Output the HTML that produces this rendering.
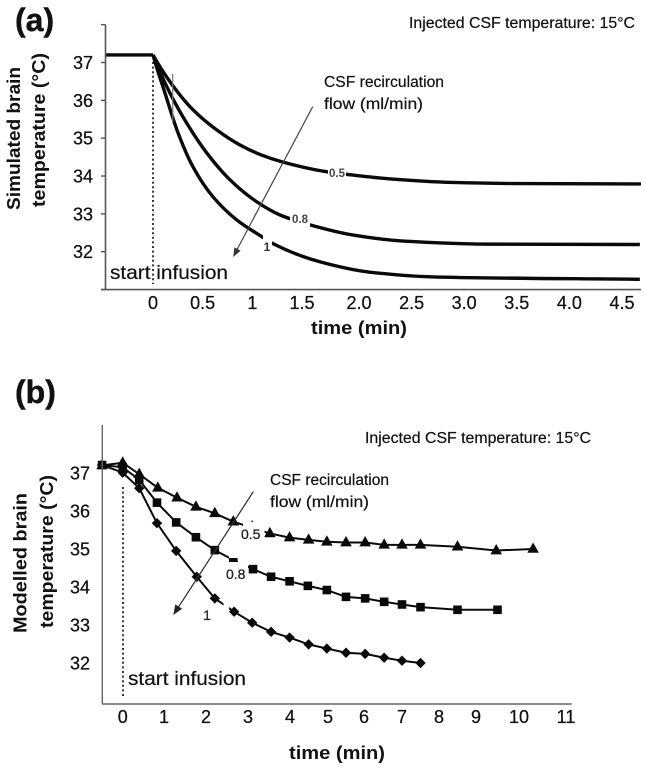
<!DOCTYPE html>
<html lang="en">
<head>
<meta charset="utf-8">
<title>Brain temperature during CSF infusion</title>
<style>
html,body{margin:0;padding:0;background:#fff;}
svg{display:block;font-family:"Liberation Sans",sans-serif;filter:blur(0.35px);}
.tick{font-size:18px;fill:#111;stroke:#111;stroke-width:0.25;}
.title{font-size:18px;font-weight:bold;fill:#111;}
.note{font-size:15.5px;fill:#111;stroke:#111;stroke-width:0.2;}
.start{font-size:19.5px;fill:#111;stroke:#111;stroke-width:0.2;}
.panel{font-size:32px;font-weight:bold;fill:#111;stroke:#111;stroke-width:0.4;}
</style>
</head>
<body>
<svg id="figure" xmlns="http://www.w3.org/2000/svg" width="645" height="768" viewBox="0 0 645 768">
  <rect x="0" y="0" width="645" height="768" fill="#fff"/>

  <!-- Panel (a) -->
  <g id="panelA">
    <g id="a-lines"></g>
    <g id="a-axes"></g>
  </g>
  <line x1="153" y1="62" x2="153" y2="284" stroke="#222" stroke-width="1.8" stroke-dasharray="2 2.6"/>
  <line x1="172.7" y1="74" x2="172.7" y2="123" stroke="#777" stroke-width="1.2"/>
  <rect x="328" y="168" width="18" height="11" fill="#fff"/>
  <rect x="290" y="212" width="20" height="15" fill="#fff"/>
  <rect x="263" y="234" width="9" height="18" fill="#fff"/>
  <text x="337" y="177" text-anchor="middle" font-size="11.5" font-weight="bold" fill="#444">0.5</text>
  <text x="300" y="223" text-anchor="middle" font-size="11.5" font-weight="bold" fill="#444">0.8</text>
  <text x="267" y="251" text-anchor="middle" font-size="12" font-weight="bold" fill="#333">1</text>
  <line x1="312.7" y1="106.7" x2="236.5" y2="250.5" stroke="#444" stroke-width="1.2"/>
  <polygon points="233.3,257 240.6,250.6 234.4,247.4" fill="#333"/>

  <text class="panel" x="15" y="31">(a)</text>
  <text class="note" x="409" y="28" textLength="226" lengthAdjust="spacingAndGlyphs">Injected CSF temperature: 15°C</text>
  <text class="note" x="324" y="87" textLength="120" lengthAdjust="spacingAndGlyphs">CSF recirculation</text>
  <text class="note" x="324" y="109" textLength="99" lengthAdjust="spacingAndGlyphs">flow (ml/min)</text>
  <text class="start" x="110" y="279" textLength="118" lengthAdjust="spacingAndGlyphs">start infusion</text>
  <text class="title" x="311" y="334" textLength="96" lengthAdjust="spacingAndGlyphs">time (min)</text>
  <text class="title" transform="translate(20,138.5) rotate(-90)" text-anchor="middle" textLength="143" lengthAdjust="spacingAndGlyphs">Simulated brain</text>
  <text class="title" transform="translate(45,130) rotate(-90)" text-anchor="middle" textLength="154" lengthAdjust="spacingAndGlyphs">temperature (°C)</text>

  <!-- Panel (b) -->
  <g id="panelB">
    <g id="b-lines"></g>
    <g id="b-axes"></g>
  </g>
  <rect x="243" y="515" width="21.5" height="28" fill="#fff"/>
  <rect x="229" y="551" width="10" height="7" fill="#fff"/>
  <rect x="226" y="562" width="22" height="20" fill="#fff"/>
  <rect x="238" y="555" width="10" height="8" fill="#fff"/>
  <rect x="223.5" y="598" width="5.5" height="18" fill="#fff"/>
  <rect x="251.5" y="520.5" width="1.5" height="1.5" fill="#333"/>
  <text x="241" y="539" font-size="14" fill="#222" stroke="#222" stroke-width="0.3">0.5</text>
  <text x="226" y="579" font-size="14" fill="#222" stroke="#222" stroke-width="0.3">0.8</text>
  <text x="207" y="620" text-anchor="middle" font-size="14" fill="#222" stroke="#222" stroke-width="0.3">1</text>
  <line x1="123" y1="487" x2="123" y2="698" stroke="#222" stroke-width="1.8" stroke-dasharray="2 2.6"/>
  <line x1="253.3" y1="491.7" x2="177" y2="609.3" stroke="#333" stroke-width="1.3"/>
  <polygon points="173.3,615 182.1,608.8 175.3,604.4" fill="#222"/>

  <text class="panel" x="15" y="403">(b)</text>
  <text class="note" x="365" y="443" textLength="226" lengthAdjust="spacingAndGlyphs">Injected CSF temperature: 15°C</text>
  <text class="note" x="270" y="485" textLength="119" lengthAdjust="spacingAndGlyphs">CSF recirculation</text>
  <text class="note" x="270" y="507" textLength="99" lengthAdjust="spacingAndGlyphs">flow (ml/min)</text>
  <text class="start" x="128" y="685" textLength="118" lengthAdjust="spacingAndGlyphs">start infusion</text>
  <text class="title" x="289" y="759" textLength="96" lengthAdjust="spacingAndGlyphs">time (min)</text>
  <text class="title" transform="translate(26.5,563) rotate(-90)" text-anchor="middle" textLength="140" lengthAdjust="spacingAndGlyphs">Modelled brain</text>
  <text class="title" transform="translate(53,551.5) rotate(-90)" text-anchor="middle" textLength="153" lengthAdjust="spacingAndGlyphs">temperature (°C)</text>
</svg>

<script>
var SVGNS = 'http://www.w3.org/2000/svg';

/* ---------- Panel (a) data ---------- */
var aXTickValues = [0, 0.5, 1, 1.5, 2, 2.5, 3, 3.5, 4, 4.5];
var aXTickLabels = ['0', '0.5', '1', '1.5', '2.0', '2.5', '3.0', '3.5', '4.0', '4.5'];
var aYTickValues = [31, 32, 33, 34, 35, 36, 37, 38];
var aYTickLabels = ['', '32', '33', '34', '35', '36', '37', ''];
var aPreTimes = [-0.48, 0];
var aPreTemps = [37.2, 37.2];
var aTimes05 = [0, 0.188, 0.403, 0.641, 0.876, 1.077, 1.279, 1.7, 1.88, 2.27, 2.89, 3.53, 4.68];
var aTemps05 = [37.2, 36.43, 35.75, 35.22, 34.82, 34.57, 34.39, 34.12, 34.05, 33.93, 33.83, 33.8, 33.79];
var aTimes08 = [0, 0.171, 0.339, 0.541, 0.775, 1.044, 1.279, 1.57, 1.95, 2.42, 3.21, 4.67];
var aTemps08 = [37.2, 36.19, 35.4, 34.61, 33.9, 33.32, 32.97, 32.71, 32.44, 32.28, 32.2, 32.19];
var aTimes1 = [0, 0.121, 0.252, 0.403, 0.604, 0.843, 1.094, 1.195, 1.66, 2.1, 2.74, 4.67];
var aTemps1 = [37.2, 36.19, 35.14, 34.24, 33.45, 32.84, 32.4, 32.23, 31.73, 31.46, 31.33, 31.27];

/* ---------- Panel (b) data ---------- */
var bXTickValues = [0, 1, 2, 3, 4, 5, 6, 7, 8, 9, 10, 11];
var bXTickLabels = ['0', '1', '2', '3', '4', '5', '6', '7', '8', '9', '10', '11'];
var bYTickValues = [32, 33, 34, 35, 36, 37];
var bYTickLabels = ['32', '33', '34', '35', '36', '37'];
var bTimes05 = [-0.5, 0, 0.4, 0.85, 1.31, 1.76, 2.21, 2.65, 3.52, 3.99, 4.49, 4.97, 5.5, 6.03, 6.53, 7.0, 7.5, 8.5, 9.47, 10.3];
var bTemps05 = [37.2, 37.27, 36.97, 36.61, 36.35, 36.11, 35.94, 35.72, 35.41, 35.3, 35.24, 35.19, 35.17, 35.17, 35.11, 35.11, 35.11, 35.06, 34.96, 35.0];
var bTimes08 = [-0.5, 0, 0.4, 0.83, 1.29, 1.76, 2.21, 2.65, 3.12, 3.55, 3.99, 4.47, 4.97, 5.5, 6.03, 6.53, 7.0, 7.5, 8.5, 9.5];
var bTemps08 = [37.21, 37.15, 36.82, 36.22, 35.7, 35.31, 34.97, 34.71, 34.47, 34.27, 34.15, 34.03, 33.92, 33.74, 33.7, 33.61, 33.54, 33.47, 33.4, 33.4];
var bTimes1 = [-0.5, 0, 0.4, 0.83, 1.29, 1.78, 2.21, 2.67, 3.1, 3.55, 3.99, 4.49, 4.97, 5.5, 6.03, 6.53, 7.0, 7.5];
var bTemps1 = [37.21, 37.01, 36.6, 35.68, 34.95, 34.27, 33.7, 33.35, 33.06, 32.82, 32.67, 32.49, 32.38, 32.27, 32.24, 32.14, 32.06, 32.0];

/* ---------- Axis functions ---------- */
function piecewise(domain, range) {
  return function (v) {
    var i = 0;
    while (i < domain.length - 2 && v > domain[i + 1]) { i++; }
    var f = (v - domain[i]) / (domain[i + 1] - domain[i]);
    return range[i] + f * (range[i + 1] - range[i]);
  };
}
/* The printed x labels in the source figure are unevenly spaced, so each axis is piecewise linear. */
var aX = piecewise([0, 1.5, 2, 4.5], [153, 302, 359, 622]);
var aY = function (t) { return 62.5 + 37.84 * (37 - t); };
var bX = piecewise([0, 1, 2, 3, 4, 5, 6, 7, 8, 9, 10, 11], [122.7, 164, 206, 248, 290, 328, 364, 402, 439, 476, 519, 566]);
var bY = function (t) { return 473 + 38 * (37 - t); };

/* Monotone cubic interpolation in pixel space (keeps unevenly spaced readings smooth). */
function smoothPath(pts) {
  var n = pts.length, i;
  if (n === 2) {
    return 'M' + pts[0][0] + ' ' + pts[0][1] + ' L' + pts[1][0] + ' ' + pts[1][1];
  }
  var h = [], s = [], m = [];
  for (i = 0; i < n - 1; i++) {
    h[i] = pts[i + 1][0] - pts[i][0];
    s[i] = (pts[i + 1][1] - pts[i][1]) / h[i];
  }
  m[0] = s[0] * 1.15;
  m[n - 1] = s[n - 2];
  for (i = 1; i < n - 1; i++) {
    if (s[i - 1] * s[i] <= 0) { m[i] = 0; continue; }
    var w1 = 2 * h[i] + h[i - 1], w2 = h[i] + 2 * h[i - 1];
    m[i] = (w1 + w2) / (w1 / s[i - 1] + w2 / s[i]);
  }
  var d = 'M' + pts[0][0].toFixed(2) + ' ' + pts[0][1].toFixed(2);
  for (i = 0; i < n - 1; i++) {
    var c1x = pts[i][0] + h[i] / 3, c1y = pts[i][1] + m[i] * h[i] / 3;
    var c2x = pts[i + 1][0] - h[i] / 3, c2y = pts[i + 1][1] - m[i + 1] * h[i] / 3;
    d += ' C' + c1x.toFixed(2) + ' ' + c1y.toFixed(2) + ' ' + c2x.toFixed(2) + ' ' + c2y.toFixed(2) + ' ' + pts[i + 1][0].toFixed(2) + ' ' + pts[i + 1][1].toFixed(2);
  }
  return d;
}
function toPoints(times, temps, xf, yf) {
  return times.map(function (t, i) { return [xf(t), yf(temps[i])]; });
}

/* ---------- Panel (a) curves ---------- */
var aLines = document.getElementById('a-lines');
function drawCurve(times, temps, name) {
  var p = document.createElementNS(SVGNS, 'path');
  
  
  p.setAttribute('d', smoothPath(toPoints(times, temps, aX, aY)));
  p.setAttribute('fill', 'none');
  p.setAttribute('stroke', '#0a0a0a');
  p.setAttribute('stroke-width', '3.4');
  p.setAttribute('stroke-linejoin', 'round');
  aLines.appendChild(p);
}
drawCurve(aPreTimes, aPreTemps, 'curve-pre-infusion');
drawCurve(aTimes05, aTemps05, 'curve-flow-0-5');
drawCurve(aTimes08, aTemps08, 'curve-flow-0-8');
drawCurve(aTimes1, aTemps1, 'curve-flow-1');

/* ---------- Panel (a) axes ---------- */
var aAxes = document.getElementById('a-axes');
var aYAxis = document.createElementNS(SVGNS, 'line');


aYAxis.setAttribute('x1', 105.5);
aYAxis.setAttribute('x2', 105.5);
aYAxis.setAttribute('y1', aY(38));
aYAxis.setAttribute('y2', aY(31));
aYAxis.setAttribute('stroke', '#555');
aYAxis.setAttribute('stroke-width', '1.6');
aAxes.appendChild(aYAxis);
var aXAxis = document.createElementNS(SVGNS, 'line');


aXAxis.setAttribute('x1', 101);
aXAxis.setAttribute('x2', 641);
aXAxis.setAttribute('y1', aY(31));
aXAxis.setAttribute('y2', aY(31));
aXAxis.setAttribute('stroke', '#555');
aXAxis.setAttribute('stroke-width', '1.6');
aAxes.appendChild(aXAxis);

aYTickValues.forEach(function (v, i) {
  var m = document.createElementNS(SVGNS, 'line');
  
  
  m.setAttribute('x1', 101);
  m.setAttribute('x2', 105.5);
  m.setAttribute('y1', aY(v));
  m.setAttribute('y2', aY(v));
  m.setAttribute('stroke', '#555');
  m.setAttribute('stroke-width', '1.4');
  aAxes.appendChild(m);
  if (aYTickLabels[i]) {
    var t = document.createElementNS(SVGNS, 'text');
    
    
    t.setAttribute('class', 'tick');
    t.setAttribute('x', 93);
    t.setAttribute('y', aY(v) + 6.5);
    t.setAttribute('text-anchor', 'end');
    t.textContent = aYTickLabels[i];
    aAxes.appendChild(t);
  }
});
aXTickValues.forEach(function (v, i) {
  var t = document.createElementNS(SVGNS, 'text');
  
  
  t.setAttribute('class', 'tick');
  t.setAttribute('x', aX(v));
  t.setAttribute('y', 309);
  t.setAttribute('text-anchor', 'middle');
  t.textContent = aXTickLabels[i];
  aAxes.appendChild(t);
});

/* ---------- Panel (b) series ---------- */
var bLines = document.getElementById('b-lines');
function markerPath(kind, x, y) {
  if (kind === 'triangle') {
    return 'M' + x + ' ' + (y - 6.5) + ' L' + (x + 5.8) + ' ' + (y + 3.8) + ' L' + (x - 5.8) + ' ' + (y + 3.8) + ' Z';
  }
  if (kind === 'square') {
    return 'M' + (x - 4.3) + ' ' + (y - 4.3) + ' H' + (x + 4.3) + ' V' + (y + 4.3) + ' H' + (x - 4.3) + ' Z';
  }
  return 'M' + x + ' ' + (y - 5.2) + ' L' + (x + 5.2) + ' ' + y + ' L' + x + ' ' + (y + 5.2) + ' L' + (x - 5.2) + ' ' + y + ' Z';
}
function drawSeries(times, temps, kind, name) {
  var pts = toPoints(times, temps, bX, bY);
  var pl = document.createElementNS(SVGNS, 'polyline');
  
  
  pl.setAttribute('points', pts.map(function (p) { return p[0].toFixed(2) + ',' + p[1].toFixed(2); }).join(' '));
  pl.setAttribute('fill', 'none');
  pl.setAttribute('stroke', '#0a0a0a');
  pl.setAttribute('stroke-width', '2');
  bLines.appendChild(pl);
  pts.forEach(function (p) {
    var m = document.createElementNS(SVGNS, 'path');
    
    
    m.setAttribute('d', markerPath(kind, p[0], p[1]));
    m.setAttribute('fill', '#0a0a0a');
    bLines.appendChild(m);
  });
}
drawSeries(bTimes05, bTemps05, 'triangle', 'series-flow-0-5');
drawSeries(bTimes08, bTemps08, 'square', 'series-flow-0-8');
drawSeries(bTimes1, bTemps1, 'diamond', 'series-flow-1');

/* ---------- Panel (b) axes ---------- */
var bAxes = document.getElementById('b-axes');
var bYAxis = document.createElementNS(SVGNS, 'line');


bYAxis.setAttribute('x1', 102.3);
bYAxis.setAttribute('x2', 102.3);
bYAxis.setAttribute('y1', 425);
bYAxis.setAttribute('y2', 704);
bYAxis.setAttribute('stroke', '#666');
bYAxis.setAttribute('stroke-width', '1.4');
bAxes.appendChild(bYAxis);
var bXAxis = document.createElementNS(SVGNS, 'line');


bXAxis.setAttribute('x1', 102);
bXAxis.setAttribute('x2', 571.7);
bXAxis.setAttribute('y1', 704);
bXAxis.setAttribute('y2', 704);
bXAxis.setAttribute('stroke', '#666');
bXAxis.setAttribute('stroke-width', '1.4');
bAxes.appendChild(bXAxis);

bYTickValues.forEach(function (v, i) {
  var t = document.createElementNS(SVGNS, 'text');
  
  
  t.setAttribute('class', 'tick');
  t.setAttribute('x', 90);
  t.setAttribute('y', bY(v) + 6.5);
  t.setAttribute('text-anchor', 'end');
  t.textContent = bYTickLabels[i];
  bAxes.appendChild(t);
});
bXTickValues.forEach(function (v, i) {
  var t = document.createElementNS(SVGNS, 'text');
  
  
  t.setAttribute('class', 'tick');
  t.setAttribute('x', bX(v));
  t.setAttribute('y', 723);
  t.setAttribute('text-anchor', 'middle');
  t.textContent = bXTickLabels[i];
  bAxes.appendChild(t);
});
</script>
</body>
</html>
